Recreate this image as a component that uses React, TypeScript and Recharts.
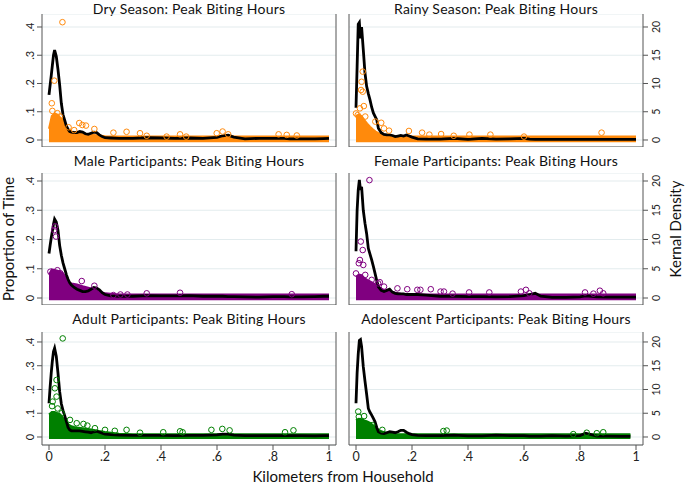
import { ComposedChart, XAxis, YAxis, Line, Area, Scatter, CartesianGrid, ReferenceLine } from "recharts";

const FONT = "Lato, 'Open Sans', sans-serif";
const AXIS = "#555555";
const GRID = "#e3ecee";

// x positions (km) where the kernel density lines were read
const kmGrid = [0, 0.004, 0.008, 0.012, 0.016, 0.02, 0.026, 0.032, 0.038, 0.044, 0.05, 0.056, 0.062, 0.068, 0.074, 0.08, 0.09, 0.1, 0.11, 0.12, 0.13, 0.14, 0.15, 0.16, 0.17, 0.18, 0.19, 0.2, 0.22, 0.25, 0.3, 0.35, 0.4, 0.45, 0.5, 0.55, 0.6, 0.62, 0.64, 0.66, 0.7, 0.75, 0.8, 0.82, 0.84, 0.86, 0.9, 0.95, 0.98, 1.0];

const dryDensity = [8.0, 9.7, 11.4, 13.2, 15.0, 15.9, 14.8, 12.5, 9.8, 6.5, 4.5, 3.5, 2.5, 1.9, 1.5, 1.4, 1.3, 1.3, 1.5, 1.4, 1.1, 1.0, 1.2, 1.4, 1.3, 0.9, 0.6, 0.4, 0.35, 0.3, 0.3, 0.4, 0.35, 0.3, 0.35, 0.3, 0.45, 0.75, 0.85, 0.5, 0.2, 0.3, 0.3, 0.3, 0.3, 0.2, 0.2, 0.2, 0.25, 0.3];
const rainyDensity = [5.7, 13, 20.5, 20.8, 18, 20, 16, 11.9, 9.5, 8.2, 7.1, 5.8, 4.8, 4.2, 3.6, 2.1, 1.3, 1.0, 0.9, 0.9, 0.8, 0.6, 0.7, 0.8, 0.7, 0.9, 0.7, 0.5, 0.2, 0.15, 0.15, 0.3, 0.1, 0.3, 0.15, 0.2, 0.3, 0.15, 0.1, 0.1, 0.1, 0.1, 0.1, 0.1, 0.1, 0.1, 0.1, 0.1, 0.1, 0.1];
const maleDensity = [7.6, 9.0, 10.3, 11.4, 12.6, 13.5, 13.0, 11.6, 9.0, 7.3, 6.0, 5.0, 4.0, 3.2, 2.6, 2.2, 1.8, 1.5, 1.3, 1.1, 1.1, 1.2, 1.5, 1.8, 1.7, 1.4, 0.9, 0.6, 0.35, 0.3, 0.3, 0.4, 0.35, 0.35, 0.4, 0.3, 0.3, 0.3, 0.25, 0.25, 0.2, 0.15, 0.25, 0.25, 0.25, 0.2, 0.2, 0.25, 0.3, 0.3];
const femaleDensity = [8, 15, 18.5, 20.2, 18.5, 19, 15, 12.8, 11, 8.5, 7.5, 6.5, 5.4, 4.2, 3.0, 1.9, 1.3, 1.1, 1.3, 1.5, 1.0, 0.8, 0.7, 0.7, 0.7, 0.6, 0.6, 0.6, 0.6, 0.5, 0.3, 0.3, 0.25, 0.25, 0.2, 0.25, 0.4, 0.6, 0.8, 0.3, 0.1, 0.1, 0.2, 0.35, 0.3, 0.2, 0.15, 0.15, 0.15, 0.15];
const adultDensity = [7.1, 10.5, 13.5, 16, 18, 18.7, 17, 13.5, 9.6, 7.0, 5.6, 4.5, 3.3, 2.0, 1.5, 1.3, 1.3, 1.3, 1.3, 1.2, 1.1, 1.0, 0.9, 1.1, 1.2, 1.0, 0.8, 0.6, 0.5, 0.4, 0.35, 0.35, 0.35, 0.3, 0.35, 0.35, 0.45, 0.6, 0.6, 0.4, 0.3, 0.3, 0.3, 0.3, 0.3, 0.3, 0.3, 0.25, 0.3, 0.3];
const teenDensity = [7.1, 13.5, 17.5, 20.3, 20.5, 19, 14.8, 11.8, 9, 6, 5.2, 4.6, 3.9, 3.2, 2.0, 1.1, 0.8, 0.7, 0.9, 1.1, 1.0, 0.9, 1.1, 1.4, 1.4, 1.0, 0.7, 0.5, 0.35, 0.3, 0.3, 0.4, 0.25, 0.25, 0.4, 0.3, 0.3, 0.2, 0.2, 0.2, 0.3, 0.2, 0.3, 0.8, 0.5, 0.2, 0.2, 0.15, 0.15, null];

// top edge of the dense cloud of markers (proportion of time)
const massKm = [0, 0.01, 0.02, 0.03, 0.04, 0.05, 0.06, 0.07, 0.08, 0.09, 0.1, 0.12, 0.14, 0.16, 0.18, 0.2, 0.25, 0.3, 0.4, 0.5, 0.6, 0.7, 0.8, 0.9, 0.98, 1.0];

const dryMass = [0.04, 0.085, 0.094, 0.09, 0.08, 0.07, 0.052, 0.038, 0.03, 0.028, 0.025, 0.022, 0.02, 0.018, 0.016, 0.013, 0.012, 0.012, 0.012, 0.012, 0.012, 0.012, 0.012, 0.012, 0.012, 0.012];
const rainyMass = [0.085, 0.09, 0.085, 0.07, 0.058, 0.047, 0.038, 0.03, 0.024, 0.02, 0.018, 0.014, 0.013, 0.012, 0.012, 0.012, 0.012, 0.012, 0.012, 0.012, 0.012, 0.012, 0.012, 0.012, 0.012, 0.012];
const maleMass = [0.08, 0.098, 0.096, 0.093, 0.09, 0.085, 0.07, 0.055, 0.05, 0.048, 0.046, 0.04, 0.035, 0.03, 0.022, 0.016, 0.012, 0.012, 0.012, 0.012, 0.012, 0.012, 0.012, 0.012, 0.012, 0.012];
const femaleMass = [0.072, 0.08, 0.078, 0.068, 0.062, 0.057, 0.052, 0.046, 0.04, 0.032, 0.027, 0.022, 0.018, 0.015, 0.013, 0.012, 0.012, 0.012, 0.012, 0.012, 0.012, 0.012, 0.012, 0.012, 0.012, 0.012];
const adultMass = [0.095, 0.105, 0.105, 0.1, 0.095, 0.08, 0.068, 0.052, 0.045, 0.042, 0.04, 0.037, 0.034, 0.03, 0.025, 0.021, 0.014, 0.012, 0.012, 0.012, 0.012, 0.012, 0.012, 0.012, 0.012, 0.012];
const teenMass = [0.07, 0.077, 0.075, 0.07, 0.066, 0.06, 0.05, 0.04, 0.03, 0.025, 0.02, 0.016, 0.013, 0.012, 0.012, 0.012, 0.012, 0.012, 0.012, 0.012, 0.012, 0.012, 0.012, 0.012, 0.012, null];

// isolated markers above the cloud
const dryOutX = [0.048, 0.019, 0.010, 0.012, 0.039, 0.03, 0.07, 0.09, 0.108, 0.119, 0.132, 0.162, 0.23, 0.277, 0.325, 0.349, 0.42, 0.468, 0.49, 0.599, 0.62, 0.64, 0.82, 0.849, 0.885];
const dryOutY = [0.417, 0.21, 0.13, 0.103, 0.083, 0.095, 0.045, 0.035, 0.06, 0.053, 0.051, 0.039, 0.026, 0.029, 0.024, 0.015, 0.012, 0.02, 0.012, 0.024, 0.03, 0.02, 0.02, 0.018, 0.016];
const rainyOutX = [0.024, 0.02, 0.018, 0.024, 0.028, 0.014, 0.0, 0.006, 0.033, 0.069, 0.09, 0.1, 0.118, 0.189, 0.236, 0.262, 0.304, 0.349, 0.405, 0.48, 0.6, 0.877];
const rainyOutY = [0.242, 0.206, 0.177, 0.171, 0.12, 0.112, 0.094, 0.088, 0.083, 0.065, 0.061, 0.041, 0.033, 0.032, 0.026, 0.019, 0.021, 0.015, 0.019, 0.019, 0.012, 0.026];
const maleOutX = [0.019, 0.025, 0.022, 0.005, 0.03, 0.04, 0.117, 0.162, 0.23, 0.255, 0.28, 0.349, 0.468, 0.867];
const maleOutY = [0.232, 0.21, 0.245, 0.09, 0.095, 0.085, 0.058, 0.042, 0.01, 0.012, 0.012, 0.016, 0.018, 0.013];
const femaleOutX = [0.048, 0.017, 0.024, 0.014, 0.01, 0.026, 0.0, 0.033, 0.056, 0.079, 0.085, 0.1, 0.148, 0.183, 0.219, 0.23, 0.267, 0.302, 0.314, 0.345, 0.404, 0.476, 0.589, 0.607, 0.619, 0.818, 0.848, 0.871, 0.883];
const femaleOutY = [0.403, 0.193, 0.164, 0.13, 0.119, 0.113, 0.084, 0.079, 0.062, 0.05, 0.054, 0.039, 0.033, 0.03, 0.028, 0.028, 0.03, 0.022, 0.022, 0.015, 0.019, 0.019, 0.022, 0.028, 0.016, 0.019, 0.015, 0.025, 0.016];
const adultOutX = [0.049, 0.027, 0.021, 0.027, 0.013, 0.011, 0.031, 0.045, 0.075, 0.099, 0.123, 0.137, 0.164, 0.2, 0.235, 0.277, 0.325, 0.408, 0.468, 0.477, 0.58, 0.619, 0.645, 0.843, 0.873];
const adultOutY = [0.415, 0.24, 0.205, 0.17, 0.149, 0.13, 0.12, 0.1, 0.072, 0.058, 0.055, 0.048, 0.037, 0.03, 0.026, 0.03, 0.018, 0.02, 0.024, 0.02, 0.03, 0.034, 0.028, 0.02, 0.028];
const teenOutX = [0.008, 0.01, 0.029, 0.058, 0.094, 0.312, 0.324, 0.776, 0.824, 0.86, 0.883];
const teenOutY = [0.107, 0.085, 0.088, 0.05, 0.03, 0.025, 0.027, 0.012, 0.018, 0.016, 0.02];

const propTicks = [0, 0.1, 0.2, 0.3, 0.4];
const densTicks = [0, 5, 10, 15, 20];
const kmTicks = [0, 0.2, 0.4, 0.6, 0.8, 1];

const ORANGE = "#ff8a0c";
const PURPLE = "#800080";
const GREEN = "#008000";

const panels = [
  { title: "Dry Season: Peak Biting Hours", color: ORANGE, density: dryDensity, mass: dryMass, outX: dryOutX, outY: dryOutY },
  { title: "Rainy Season: Peak Biting Hours", color: ORANGE, density: rainyDensity, mass: rainyMass, outX: rainyOutX, outY: rainyOutY },
  { title: "Male Participants: Peak Biting Hours", color: PURPLE, density: maleDensity, mass: maleMass, outX: maleOutX, outY: maleOutY },
  { title: "Female Participants: Peak Biting Hours", color: PURPLE, density: femaleDensity, mass: femaleMass, outX: femaleOutX, outY: femaleOutY },
  { title: "Adult Participants: Peak Biting Hours", color: GREEN, density: adultDensity, mass: adultMass, outX: adultOutX, outY: adultOutY },
  { title: "Adolescent Participants: Peak Biting Hours", color: GREEN, density: teenDensity, mass: teenMass, outX: teenOutX, outY: teenOutY },
];

// plot rectangles in page pixels
const COL_LEFT = [42, 349];
const PLOT_W = 294;
const ROWS = [
  { top: 14, bottom: 147, lo: -0.0248, hi: 0.446, titleY: 13.5 },
  { top: 173, bottom: 305, lo: -0.0239, hi: 0.4274, titleY: 166 },
  { top: 332, bottom: 445, lo: -0.0337, hi: 0.442, titleY: 324 },
];

const fmt = (v: number) => (v === 0 ? "0" : v === 1 ? "1" : String(v).replace(/^0/, ""));

function buildTable(density: (number | null)[], mass: (number | null)[]) {
  const xs = Array.from(new Set([...kmGrid, ...massKm])).sort((a, b) => a - b);
  return xs.map((x) => {
    const di = kmGrid.indexOf(x);
    const mi = massKm.indexOf(x);
    return { x, d: di >= 0 ? density[di] : undefined, m: mi >= 0 ? mass[mi] : undefined };
  });
}

const LeftTick = (p: any) => (
  <text x={p.x - 1} y={p.y} transform={`rotate(-90 ${p.x - 1} ${p.y})`} textAnchor="middle" fontSize={11} fontFamily={FONT} fill="#222">
    {fmt(p.payload.value)}
  </text>
);

const RightTick = (p: any) => (
  <text x={p.x + 10} y={p.y} transform={`rotate(-90 ${p.x + 10} ${p.y})`} textAnchor="middle" fontSize={10.5} fontFamily={FONT} fill="#222">
    {fmt(p.payload.value)}
  </text>
);

function Panel({ idx }: { idx: number }) {
  const p = panels[idx];
  const col = idx % 2;
  const row = Math.floor(idx / 2);
  const { top, bottom, lo, hi } = ROWS[row];
  const plotH = bottom - top;
  const lastRow = row === 2;
  const table = buildTable(p.density, p.mass);
  const outliers = p.outX.map((x, i) => ({ x, y: p.outY[i] }));

  return (
    <div style={{ position: "absolute", left: COL_LEFT[col] - 40, top }}>
      <ComposedChart
        width={PLOT_W + 80}
        height={plotH + (lastRow ? 30 : 0)}
        data={table}
        margin={{ top: 0, right: col === 0 ? 40 : 0, bottom: 0, left: col === 1 ? 40 : 0 }}
      >
        <CartesianGrid yAxisId="l" vertical={false} stroke={GRID} strokeWidth={1.2} />
        <XAxis
          type="number"
          dataKey="x"
          domain={[-0.025, 1.025]}
          allowDataOverflow
          ticks={kmTicks}
          interval={0}
          tickFormatter={fmt}
          hide={!lastRow}
          height={30}
          tickSize={5}
          stroke={AXIS}
          tick={{ fontSize: 12.5, fontFamily: FONT, fill: "#222" }}
        />
        <YAxis yAxisId="l" type="number" domain={[lo, hi]} allowDataOverflow ticks={propTicks} interval={0} hide={col === 1} width={40} tickSize={5} stroke={AXIS} tick={<LeftTick />} />
        <YAxis yAxisId="r" orientation="right" type="number" domain={[lo * 50, hi * 50]} allowDataOverflow ticks={densTicks} interval={0} hide={col === 0} width={40} tickSize={5} stroke={AXIS} tick={<RightTick />} />
        <Area yAxisId="l" type="linear" dataKey="m" baseValue={-0.008} stroke={p.color} strokeWidth={2} fill={p.color} fillOpacity={1} connectNulls dot={false} activeDot={false} isAnimationActive={false} />
        <Scatter
          yAxisId="l"
          data={outliers}
          dataKey="y"
          isAnimationActive={false}
          shape={(s: any) => <circle cx={s.cx} cy={s.cy} r={2.8} fill="none" stroke={p.color} strokeWidth={1} />}
        />
        <Line yAxisId="r" type="linear" dataKey="d" stroke="#000" strokeWidth={2.8} dot={false} activeDot={false} connectNulls isAnimationActive={false} />
        {col === 0 && <ReferenceLine yAxisId="l" x={1.025} stroke={AXIS} ifOverflow="visible" />}
        {col === 1 && <ReferenceLine yAxisId="l" x={-0.025} stroke={AXIS} ifOverflow="visible" />}
        {!lastRow && <ReferenceLine yAxisId="l" y={lo} stroke={AXIS} ifOverflow="visible" />}
      </ComposedChart>
    </div>
  );
}

export default function App() {
  return (
    <div style={{ position: "absolute", left: 0, top: 0, width: 685, height: 486, background: "#fff", overflow: "hidden" }}>
      <svg width={685} height={486} style={{ position: "absolute", left: 0, top: 0 }}>
        {panels.map((p, i) => {
          const col = i % 2;
          const row = Math.floor(i / 2);
          return (
            <text key={p.title} x={COL_LEFT[col] + PLOT_W / 2} y={ROWS[row].titleY} textAnchor="middle" fontSize={14} letterSpacing={0.2} fontFamily={FONT} fill="#111">
              {p.title}
            </text>
          );
        })}
        <text x={14} y={239} transform="rotate(-90 14 239)" textAnchor="middle" fontSize={15} fontFamily={FONT} fill="#111">
          Proportion of Time
        </text>
        <text x={681} y={229} transform="rotate(-90 681 229)" textAnchor="middle" fontSize={15} fontFamily={FONT} fill="#111">
          Kernal Density
        </text>
        <text x={343} y={482} textAnchor="middle" fontSize={15} fontFamily={FONT} fill="#111">
          Kilometers from Household
        </text>
      </svg>
      {panels.map((p, i) => (
        <Panel key={p.title} idx={i} />
      ))}
    </div>
  );
}
